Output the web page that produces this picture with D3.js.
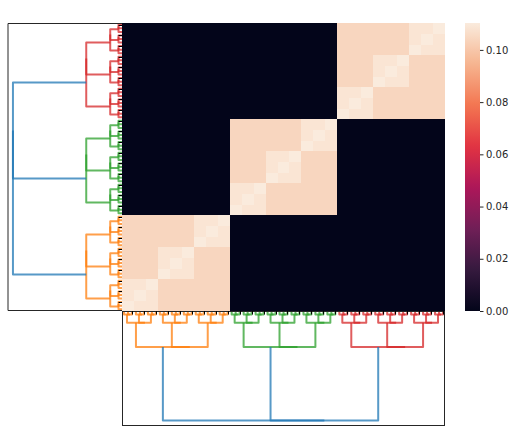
<!DOCTYPE html>
<html>
<head>
<meta charset="utf-8">
<script src="https://cdn.jsdelivr.net/npm/d3@7"></script>
<style>
  html, body { margin: 0; padding: 0; background: #fff; }
  svg { display: block; font-family: "DejaVu Sans", sans-serif; }
</style>
</head>
<body>
<svg id="chart" width="516" height="433"></svg>
<script>
// ---------------- data ----------------
const clusterNames = ["C1", "C2", "C3"];
const clusterColors = ["#ff7f0e", "#2ca02c", "#d62728"];
const aboveThresholdColor = "#1f77b4";
const branching = [3, 3, 3, 3];                 // children per node at each level
const mergeHeights = [1.0, 0.328, 0.108, 0.032]; // link heights: root, cluster, group, subgroup
const sharedLevelValues = [0, 0.1042, 0.1085, 0.1103, 0.1103]; // value by depth of common ancestor
const colorbarTicks = [0.00, 0.02, 0.04, 0.06, 0.08, 0.10];
const colorbarTickLabels = ["0.00", "0.02", "0.04", "0.06", "0.08", "0.10"];
const leafTickStart = 2, leafTickStep = 3;
// rocket colormap control colors
const rocketStops = ["#03051a", "#35193e", "#701f57", "#ad1759", "#e13342", "#f37651", "#f6b48f", "#faebdd"];

// ---------------- layout ----------------
const heat = { x0: 122, x1: 445, y0: 23, y1: 311 };
const leftD = { x0: 7.5, x1: 122, y0: 23, y1: 311 };
const botD = { x0: 122, x1: 445, y0: 311, y1: 426 };
const cbar = { x0: 465, x1: 480, y0: 23, y1: 311 };

const svg = d3.select("#chart");

// leaves (leaf order) with hierarchical path
const leaves = [];
(function gen(level, path) {
  if (level === branching.length) { leaves.push({ idx: leaves.length, path: path.slice() }); return; }
  for (let k = 0; k < branching[level]; k++) gen(level + 1, path.concat(k));
})(0, []);
const nLeaves = leaves.length;
const leafIds = leaves.map(d => d.idx);

// ---------------- color scale ----------------
const rocket = d3.piecewise(d3.interpolateRgb, rocketStops);
const vmax = d3.max(sharedLevelValues);
const color = d3.scaleSequential(rocket).domain([0, vmax]);

// ---------------- heatmap ----------------
const xBand = d3.scaleBand().domain(leafIds).range([heat.x0, heat.x1]);
const yBand = d3.scaleBand().domain(leafIds).range([heat.y1, heat.y0]);

function sharedDepth(a, b) {
  let d = 0;
  while (d < a.path.length && a.path[d] === b.path[d]) d++;
  return d;
}
const cells = [];
leaves.forEach(r => leaves.forEach(c => cells.push({ r: r.idx, c: c.idx, v: sharedLevelValues[sharedDepth(r, c)] })));

// ---------------- dendrogram links ----------------
const links = [];
function merge(a, b, h, col) {
  links.push({ a, b, h, color: col });
  return { pos: (a.pos + b.pos) / 2, h };
}
let leafCounter = 0;
function build(level, path) {
  if (level === branching.length) { const i = leafCounter++; return { pos: i + 0.5, h: 0 }; }
  const kids = [];
  for (let k = 0; k < branching[level]; k++) kids.push(build(level + 1, path.concat(k)));
  const col = level === 0 ? aboveThresholdColor : clusterColors[path[0]];
  const h = mergeHeights[level];
  let node = kids[kids.length - 1];
  for (let k = kids.length - 2; k >= 1; k--) node = merge(kids[k], node, h, col);
  node = merge(kids[0], node, h, col);
  return node;
}
build(0, []);
links.sort((p, q) => p.h - q.h);
const hMax = d3.max(links, d => d.h) * 1.05;

// clip paths
const defs = svg.append("defs");
defs.append("clipPath").attr("id", "clipLeft").append("rect")
  .attr("x", leftD.x0).attr("y", leftD.y0).attr("width", leftD.x1 - leftD.x0).attr("height", leftD.y1 - leftD.y0);
defs.append("clipPath").attr("id", "clipBot").append("rect")
  .attr("x", botD.x0).attr("y", botD.y0).attr("width", botD.x1 - botD.x0).attr("height", botD.y1 - botD.y0);

// ---- left dendrogram ----
const leftPos = d3.scaleLinear().domain([0, nLeaves]).range([leftD.y1, leftD.y0]);
const leftH = d3.scaleLinear().domain([0, hMax]).range([leftD.x1, leftD.x0]);
const gLeft = svg.append("g").attr("clip-path", "url(#clipLeft)");
gLeft.selectAll("path").data(links).join("path")
  .attr("d", d => {
    const p = d3.path();
    p.moveTo(leftH(d.a.h), leftPos(d.a.pos));
    p.lineTo(leftH(d.h), leftPos(d.a.pos));
    p.lineTo(leftH(d.h), leftPos(d.b.pos));
    p.lineTo(leftH(d.b.h), leftPos(d.b.pos));
    return p.toString();
  })
  .attr("fill", "none").attr("stroke", d => d.color)
  .attr("stroke-opacity", 0.75).attr("stroke-width", 2).attr("stroke-linejoin", "round");
svg.append("path")
  .attr("d", `M${leftD.x1},${leftD.y0 + 0.5}H${leftD.x0 + 0.5}V${leftD.y1 - 0.5}H${leftD.x1}`)
  .attr("fill", "none").attr("stroke", "#262626").attr("stroke-width", 1);

// ---- bottom dendrogram ----
const botPos = d3.scaleLinear().domain([0, nLeaves]).range([botD.x0, botD.x1]);
const botH = d3.scaleLinear().domain([0, hMax]).range([botD.y0, botD.y1]);
const gBot = svg.append("g").attr("clip-path", "url(#clipBot)");
gBot.selectAll("path").data(links).join("path")
  .attr("d", d => {
    const p = d3.path();
    p.moveTo(botPos(d.a.pos), botH(d.a.h));
    p.lineTo(botPos(d.a.pos), botH(d.h));
    p.lineTo(botPos(d.b.pos), botH(d.h));
    p.lineTo(botPos(d.b.pos), botH(d.b.h));
    return p.toString();
  })
  .attr("fill", "none").attr("stroke", d => d.color)
  .attr("stroke-opacity", 0.75).attr("stroke-width", 2).attr("stroke-linejoin", "round");
svg.append("rect")
  .attr("x", botD.x0 + 0.5).attr("y", botD.y0 + 0.5)
  .attr("width", botD.x1 - botD.x0 - 1).attr("height", botD.y1 - botD.y0 - 1)
  .attr("fill", "none").attr("stroke", "#262626").attr("stroke-width", 1);

// ---- heatmap cells ----
svg.append("g").attr("shape-rendering", "crispEdges")
  .selectAll("rect").data(cells).join("rect")
  .attr("x", d => xBand(d.c)).attr("y", d => yBand(d.r))
  .attr("width", xBand.bandwidth() + 0.3).attr("height", yBand.bandwidth() + 0.3)
  .attr("fill", d => color(d.v));

// heatmap ticks (no labels)
const tickLeaves = leafIds.filter(i => i >= leafTickStart && (i - leafTickStart) % leafTickStep === 0);
const gTicks = svg.append("g").attr("stroke", "#000").attr("stroke-width", 1);
gTicks.selectAll("line.l").data(tickLeaves).join("line").attr("class", "l")
  .attr("x1", heat.x0).attr("x2", heat.x0 - 3.5)
  .attr("y1", d => Math.round(yBand(d) + yBand.bandwidth() / 2) + 0.5)
  .attr("y2", d => Math.round(yBand(d) + yBand.bandwidth() / 2) + 0.5);
gTicks.selectAll("line.b").data(tickLeaves).join("line").attr("class", "b")
  .attr("y1", heat.y1).attr("y2", heat.y1 + 3.5)
  .attr("x1", d => Math.round(xBand(d) + xBand.bandwidth() / 2) + 0.5)
  .attr("x2", d => Math.round(xBand(d) + xBand.bandwidth() / 2) + 0.5);

// ---- colorbar ----
const cbY = d3.scaleLinear().domain([0, vmax]).range([cbar.y1, cbar.y0]);
const grad = defs.append("linearGradient").attr("id", "cbGrad")
  .attr("x1", 0).attr("y1", 1).attr("x2", 0).attr("y2", 0);
d3.range(0, 1.0001, 0.02).forEach(t => {
  grad.append("stop").attr("offset", t).attr("stop-color", color(t * vmax));
});
svg.append("rect")
  .attr("x", cbar.x0).attr("y", cbar.y0)
  .attr("width", cbar.x1 - cbar.x0).attr("height", cbar.y1 - cbar.y0)
  .attr("fill", "url(#cbGrad)");
const cbAxis = d3.axisRight(cbY).tickValues(colorbarTicks)
  .tickFormat((d, i) => colorbarTickLabels[i]).tickSize(3.5).tickPadding(2.5);
const gAx = svg.append("g").attr("transform", `translate(${cbar.x1},0)`).call(cbAxis);
gAx.select(".domain").remove();
gAx.selectAll("line").attr("stroke", "#262626");
gAx.selectAll("text").attr("fill", "#262626").attr("font-size", 10)
  .attr("font-family", "DejaVu Sans, sans-serif");
</script>
</body>
</html>
